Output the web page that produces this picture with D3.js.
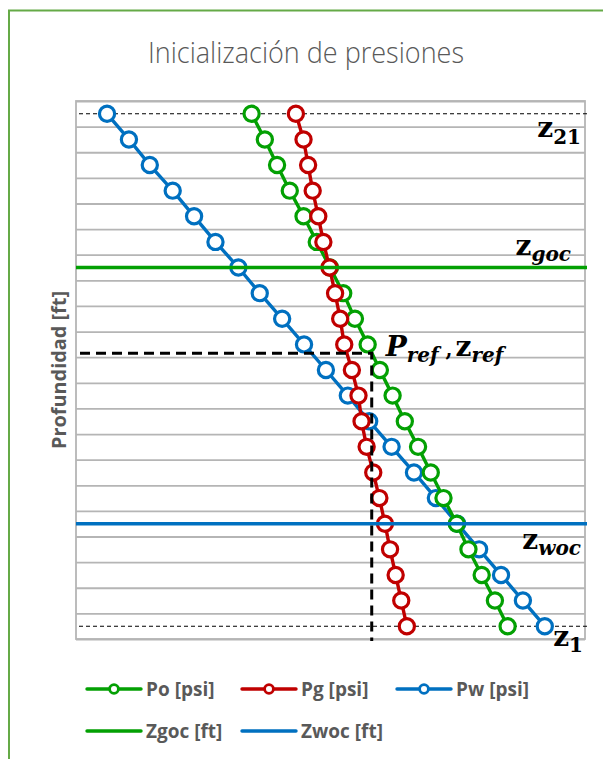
<!DOCTYPE html>
<html><head><meta charset="utf-8">
<script src="https://cdn.jsdelivr.net/npm/d3@7"></script>
<style>
html,body{margin:0;padding:0;background:#fff;}
svg{display:block;}
</style></head>
<body>
<svg id="chart" width="603" height="759"></svg>
<script>
// ---- data ----
const depthFt = [5000,5100,5200,5300,5400,5500,5600,5700,5800,5900,6000,6100,6200,6300,6400,6500,6600,6700,6800,6900,7000];
const poPsi = [2345,2371,2395,2420,2447,2473,2499,2525,2548,2573,2597,2622,2646,2672,2697,2722,2748,2771,2797,2823,2848];
const pgPsi = [2432,2447,2456,2465,2476,2486,2498,2509,2519,2527,2542,2555,2561,2571,2584,2596,2607,2617,2628,2639,2650];
const pwPsi = [2061,2104,2145,2190,2232,2274,2319,2361,2405,2448,2491,2534,2576,2620,2664,2707,2749,2792,2835,2878,2921];
const zGoc = 5600, zWoc = 6600;
const pRef = 2581, zRef = 5935;
const z21 = 5000, z1 = 7000;
const gridDepths = [4950,5050,5150,5250,5350,5450,5550,5650,5750,5850,5950,6050,6150,6250,6350,6450,6550,6650,6750,6850,6950,7050];
const xDomain = [2000, 3000];
const yDomain = [4950, 7050];

const seriesNames = ["Po [psi]","Pg [psi]","Pw [psi]"];
const lineNames = ["Zgoc [ft]","Zwoc [ft]"];

// ---- layout ----
const svg = d3.select("#chart");
const L = 76, R = 585, T = 101, B = 639;
const x = d3.scaleLinear().domain(xDomain).range([L, R]);
const y = d3.scaleLinear().domain(yDomain).range([T, B]);

const GREEN = "#03a003", RED = "#c00000", BLUE = "#0070c0", GRAY = "#595959";

// frame
svg.append("path").attr("d", "M9,759 L9,10.5 L603,10.5")
  .attr("fill","none").attr("stroke","#65aa47").attr("stroke-width",2);

// title
svg.append("text").attr("x", 306).attr("y", 63).attr("text-anchor","middle")
  .attr("font-family","'Open Sans', 'Noto Sans', sans-serif").attr("font-weight",300)
  .attr("font-size", 30).attr("fill", GRAY)
  .attr("textLength", 316).attr("lengthAdjust","spacingAndGlyphs")
  .text("Inicialización de presiones");

// gridlines
const grid = svg.append("g").attr("transform", `translate(${L},0)`)
  .call(d3.axisLeft(y).tickValues(gridDepths).tickSize(-(R-L)).tickFormat(""));
grid.select(".domain").remove();
grid.selectAll("line").attr("stroke","#b5b5b5").attr("stroke-width",1.8);

// plot border
svg.append("rect").attr("x",L).attr("y",T).attr("width",R-L).attr("height",B-T)
  .attr("fill","none").attr("stroke","#b5b5b5").attr("stroke-width",1.8);

// thin dashed z21 / z1
[z21, z1].forEach(d => {
  svg.append("line").attr("x1", L+3).attr("x2", R+2).attr("y1", y(d)).attr("y2", y(d))
    .attr("stroke","#000").attr("stroke-width",1.1).attr("stroke-dasharray","4,3");
});

// y axis label
svg.append("text").attr("transform", `translate(66,${(T+B)/2}) rotate(-90)`)
  .attr("text-anchor","middle").attr("font-family","'Open Sans', sans-serif")
  .attr("font-weight","bold").attr("font-size",19).attr("fill",GRAY)
  .attr("textLength", 158).attr("lengthAdjust","spacingAndGlyphs")
  .text("Profundidad [ft]");

// series
const series = [
  {name: seriesNames[2], vals: pwPsi, color: BLUE},
  {name: seriesNames[0], vals: poPsi, color: GREEN},
  {name: seriesNames[1], vals: pgPsi, color: RED}
];
const line = d3.line().x(d => x(d[0])).y(d => y(d[1]));
series.forEach(s => {
  const pts = s.vals.map((v,i) => [v, depthFt[i]]);
  const g = svg.append("g");
  g.append("path").attr("d", line(pts)).attr("fill","none")
    .attr("stroke", s.color).attr("stroke-width", 3.4).attr("stroke-linejoin","round");
  g.selectAll("circle").data(pts).join("circle")
    .attr("cx", d => x(d[0])).attr("cy", d => y(d[1])).attr("r", 7.6)
    .attr("fill","#fff").attr("stroke", s.color).attr("stroke-width", 3.2);
});

// contact lines
svg.append("line").attr("x1", L).attr("x2", R+2).attr("y1", y(zGoc)).attr("y2", y(zGoc))
  .attr("stroke", GREEN).attr("stroke-width", 3.4);
svg.append("line").attr("x1", L).attr("x2", R+2).attr("y1", y(zWoc)).attr("y2", y(zWoc))
  .attr("stroke", BLUE).attr("stroke-width", 3.4);

// reference dashed
svg.append("path")
  .attr("d", `M${L+4},${y(zRef)} L${x(pRef)},${y(zRef)} L${x(pRef)},${B+2}`)
  .attr("fill","none").attr("stroke","#000").attr("stroke-width",3)
  .attr("stroke-dasharray","10,6");

// math labels
const SERIF = "'DejaVu Serif', 'Liberation Serif', serif";
function mathLabel(xPos, yPos, anchor, parts) {
  const t = svg.append("text").attr("x", xPos).attr("y", yPos).attr("text-anchor", anchor)
    .attr("font-family", SERIF).attr("font-weight","bold").attr("fill","#000");
  parts.forEach(p => {
    t.append("tspan").attr("font-size", p.size).attr("font-style", p.italic ? "italic" : "normal")
      .attr("dy", p.dy || 0).attr("dx", p.dx || 0).text(p.t);
  });
  return t;
}
mathLabel(R-4, y(z21)+23, "end", [{t:"z",size:28},{t:"21",size:20,dy:7}]);
mathLabel(R-14, y(zGoc)-13, "end", [{t:"z",size:28},{t:"goc",size:20,italic:true,dy:6}]);
mathLabel(R-4, y(zWoc)+25, "end", [{t:"z",size:28},{t:"woc",size:20,italic:true,dy:6}]);
mathLabel(R-2, y(z1)+20, "end", [{t:"z",size:28},{t:"1",size:20,dy:6}]);
mathLabel(x(pRef)+14, y(zRef)+3, "start", [
  {t:"P",size:28,italic:true},{t:"ref",size:20,italic:true,dy:6},
  {t:" ,",size:20,dy:-6},{t:"z",size:28,dx:3},{t:"ref",size:20,italic:true,dy:6}
]);

// legend
const LEG_FONT = "'Open Sans', sans-serif";
const legItems = [
  {name: seriesNames[0], color: GREEN, marker: true, lx: 87, row: 0},
  {name: seriesNames[1], color: RED, marker: true, lx: 242, row: 0},
  {name: seriesNames[2], color: BLUE, marker: true, lx: 397, row: 0},
  {name: lineNames[0], color: GREEN, marker: false, lx: 87, row: 1},
  {name: lineNames[1], color: BLUE, marker: false, lx: 242, row: 1}
];
const rowY = [689, 731];
legItems.forEach(it => {
  const yy = rowY[it.row];
  svg.append("line").attr("x1", it.lx).attr("x2", it.lx+54).attr("y1", yy).attr("y2", yy)
    .attr("stroke", it.color).attr("stroke-width", 3.4).attr("stroke-linecap","round");
  if (it.marker) {
    svg.append("circle").attr("cx", it.lx+27).attr("cy", yy).attr("r", 4.4)
      .attr("fill","#fff").attr("stroke", it.color).attr("stroke-width", 2.8);
  }
  svg.append("text").attr("x", it.lx+59).attr("y", yy+7)
    .attr("font-family", LEG_FONT).attr("font-weight","bold").attr("font-size",19)
    .attr("fill", GRAY).text(it.name);
});
</script>
</body></html>
